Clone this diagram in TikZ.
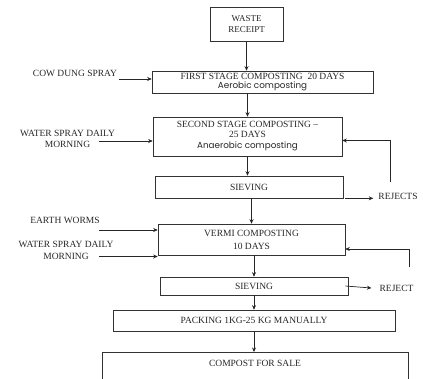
\documentclass[tikz,border=0pt]{standalone}
\usepackage{fontspec}
\setmainfont{Liberation Serif}
\newfontfamily\gothicfont{Poppins}
\usetikzlibrary{arrows.meta}

\begin{document}
\begin{tikzpicture}[x=1pt,y=-1pt,
  box/.style={draw=black!80, line width=0.6pt, inner sep=0pt, align=center,
    font=\fontsize{9.5}{11}\selectfont, text=black!85},
  lbl/.style={inner sep=0pt, align=center, font=\fontsize{9.5}{11}\selectfont, text=black!85},
  arr/.style={draw=black!85, line width=0.7pt, -{Stealth[length=4.5pt,width=4pt]}}]

\clip (0,0) rectangle (423,378);

% main column
\node[box, minimum width=73pt, minimum height=34pt, font=\fontsize{9}{11}\selectfont] (waste) at (246.5,24) {WASTE\\RECEIPT};
\node[box, minimum width=221pt, minimum height=22pt] (first) at (262.5,82)
  {FIRST STAGE COMPOSTING\ \ 20 DAYS\\[-2.5pt]{\gothicfont\fontsize{8.8}{10}\selectfont Aerobic composting}};
\node[box, minimum width=189pt, minimum height=39pt] (second) at (247.5,136.5)
  {SECOND STAGE COMPOSTING –\\[-1pt]25 DAYS\\{\gothicfont\fontsize{8.8}{10}\selectfont Anaerobic composting}};
\node[box, minimum width=188pt, minimum height=22pt] (sieve1) at (249,187) {SIEVING};
\node[box, minimum width=187pt, minimum height=31pt] (vermi) at (251.5,239.5) {VERMI COMPOSTING\\[2pt]10 DAYS};
\node[box, minimum width=188pt, minimum height=18pt] (sieve2) at (254,286) {SIEVING};
\node[box, minimum width=282pt, minimum height=21pt] (packing) at (254,320.5) {PACKING 1KG-25 KG MANUALLY};
\node[box, anchor=north, minimum width=306pt, minimum height=60pt] (compost) at (255,352) {};
\node[lbl] (sale) at (255,363) {COMPOST FOR SALE};

% inputs on the left
\node[lbl] (cow) at (75,73) {COW DUNG SPRAY};
\node[lbl] (water1) at (67.5,138.5) {WATER SPRAY DAILY\\MORNING};
\node[lbl] (worms) at (65,220) {EARTH WORMS};
\node[lbl] (water2) at (66,250) {WATER SPRAY DAILY\\[1pt]MORNING};

% rejects on the right
\node[lbl] (rej1) at (398,196) {REJECTS};
\node[lbl] (rej2) at (396.5,288) {REJECT};

\coordinate (cd) at (119,79);
\coordinate (w1) at (99,141);
\coordinate (ew) at (99,230);
\coordinate (w2) at (99,256.5);
\coordinate (fb1) at (390,182);
\coordinate (fb2) at (409,267);

% flow
\draw[arr] (waste.south) -- (waste.south |- first.north);
\draw[arr] (second.north |- first.south) -- (second.north);
\draw[arr] (second.south) -- (second.south |- sieve1.north);
\draw[arr] (vermi.north |- sieve1.south) -- (vermi.north);
\draw[arr] (sieve2.north |- vermi.south) -- (sieve2.north);
\draw[arr] (sieve2.south) -- (sieve2.south |- packing.north);
\draw[arr] (packing.south) -- (packing.south |- compost.north);

\draw[arr] (cd) -- (cd -| first.west);
\draw[arr] (w1) -- (w1 -| second.west);
\draw[arr] (ew) -- (ew -| vermi.west);
\draw[arr] (w2) -- (w2 -| vermi.west);

\draw[arr] ([xshift=2pt]sieve1.south east) -- ([xshift=-5pt]sieve1.south east -| rej1.west);
\draw[arr] ([xshift=-3pt]sieve2.east) -- ([xshift=-8pt]rej2.west);
\draw[arr] (fb1) |- ([yshift=-4pt]second.east);
\draw[arr] (fb2) |- ([yshift=-9.5pt]vermi.east);

\end{tikzpicture}
\end{document}
